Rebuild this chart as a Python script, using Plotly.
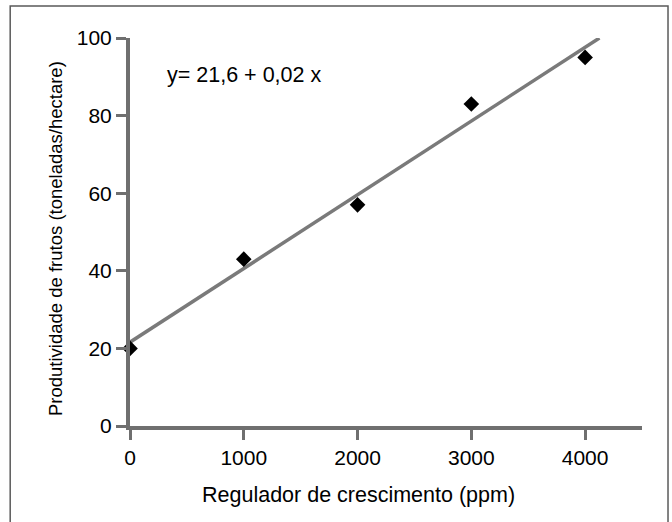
import plotly.graph_objects as go

# dados
regulador_ppm = [0, 1000, 2000, 3000, 4000]
produtividade = [20, 43, 57, 83, 95]

# reta de regressão y = 21,6 + 0,02 x (extremos)
reta_x = [0, 4126]
reta_y = [21.6, 100]

equacao = "y= 21,6 + 0,02 x"
x_ticks = [0, 1000, 2000, 3000, 4000]
y_ticks = [0, 20, 40, 60, 80, 100]

axis_color = "#6f6f6f"
font_family = "Liberation Sans, Arial, sans-serif"

fig = go.Figure()
fig.add_trace(go.Scatter(
    x=reta_x, y=reta_y, mode="lines",
    line=dict(color="#7a7a7a", width=3.5),
    showlegend=False, cliponaxis=False,
))
fig.add_trace(go.Scatter(
    x=regulador_ppm, y=produtividade, mode="markers",
    marker=dict(symbol="diamond", size=12, color="black"),
    showlegend=False, cliponaxis=False,
))

fig.add_annotation(
    x=0.068, y=0.905, xref="paper", yref="paper",
    text=equacao, showarrow=False, xanchor="left", yanchor="middle",
    font=dict(size=21.5, color="black", family=font_family),
)

# títulos dos eixos (posicionados como no original)
fig.add_annotation(
    x=0.447, y=-0.178, xref="paper", yref="paper",
    text="Regulador de crescimento (ppm)", showarrow=False,
    xanchor="center", yanchor="middle",
    font=dict(size=21.5, color="black", family=font_family),
)
fig.add_annotation(
    x=-0.1465, y=0.4845, xref="paper", yref="paper",
    text="Produtividade de frutos (toneladas/hectare)", showarrow=False,
    textangle=-90, xanchor="center", yanchor="middle",
    font=dict(size=18.5, color="black", family=font_family),
)

# moldura externa
fig.add_shape(
    type="rect", xref="paper", yref="paper",
    x0=-0.234, x1=1.0508, y0=-0.4, y1=1.0825,
    line=dict(color="#5a5a5a", width=1.5), layer="below",
)

fig.update_xaxes(
    range=[0, 4500], tickvals=x_ticks,
    showgrid=False, zeroline=False,
    showline=True, linecolor=axis_color, linewidth=4,
    ticks="outside", ticklen=10, tickwidth=3, tickcolor=axis_color,
    tickfont=dict(size=21, color="black"),
)
fig.update_yaxes(
    range=[0, 100], tickvals=y_ticks,
    showgrid=False, zeroline=False,
    showline=True, linecolor=axis_color, linewidth=4,
    ticks="outside", ticklen=10, tickwidth=3, tickcolor=axis_color,
    tickfont=dict(size=21, color="black"),
)

fig.update_layout(
    width=672, height=522,
    margin=dict(l=130, r=30, t=38, b=96, autoexpand=False),
    plot_bgcolor="white", paper_bgcolor="white",
    font=dict(family=font_family, color="black"),
)

fig.write_html("out.html", config={"displayModeBar": False},
               post_script="document.body.style.margin='0';")
